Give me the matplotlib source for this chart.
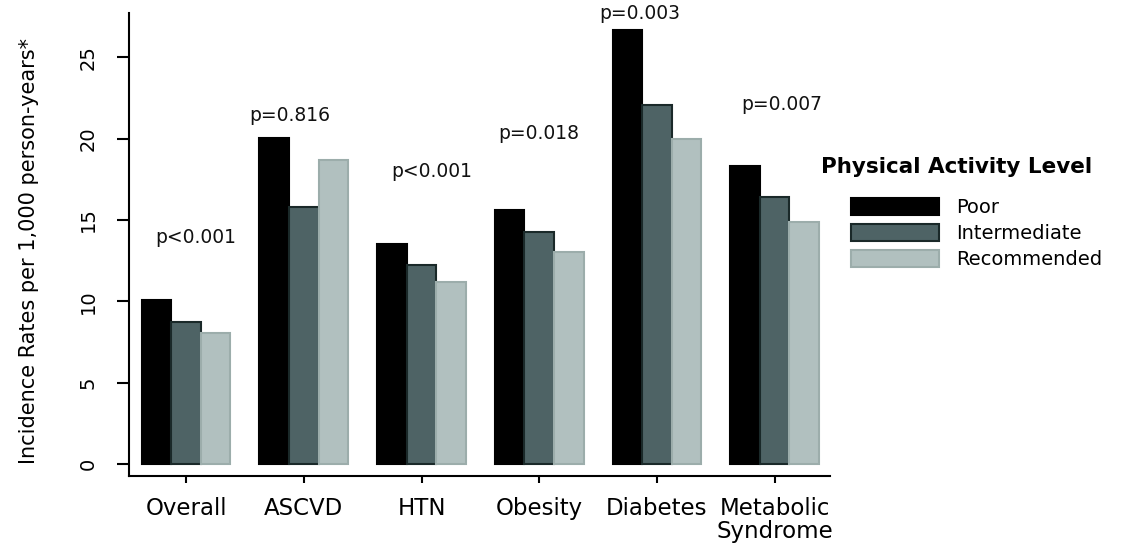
import matplotlib
matplotlib.use("Agg")
import matplotlib.pyplot as plt
from matplotlib.patches import Patch
import numpy as np

categories = ["Overall", "ASCVD", "HTN", "Obesity", "Diabetes", "Metabolic\nSyndrome"]
levels = ["Poor", "Intermediate", "Recommended"]
poor = [10.1, 20.05, 13.5, 15.6, 26.65, 18.3]
intermediate = [8.72, 15.8, 12.25, 14.26, 22.06, 16.38]
recommended = [8.03, 18.67, 11.2, 13.05, 20.0, 14.9]
p_labels = ["p<0.001", "p=0.816", "p<0.001", "p=0.018", "p=0.003", "p=0.007"]
p_label_y = [13.95, 21.4, 17.95, 20.3, 27.7, 22.1]
p_label_dx = [0.08, -0.12, 0.085, 0.0, -0.145, 0.06]
yticks = [0, 5, 10, 15, 20, 25]

face_colors = ["#000000", "#4e6365", "#b1c0bf"]
edge_colors = ["#000000", "#1a2929", "#9cadab"]

plt.rcParams['font.family'] = ['DejaVu Sans']

fig = plt.figure(figsize=(11.21, 5.43), dpi=100)
ax = fig.add_axes([129/1121, (543-476)/543, (830-129)/1121, (476-13)/543])

x = np.arange(len(categories))
w = 0.251
series = [poor, intermediate, recommended]
for i, vals in enumerate(series):
    ax.bar(x + (i - 1) * w, vals, width=w, color=face_colors[i],
           edgecolor=edge_colors[i], linewidth=1.5, label=levels[i])

for xi, lab, yy, dx in zip(x, p_labels, p_label_y, p_label_dx):
    ax.text(xi + dx, yy, lab, ha="center", va="center", fontsize=13.5, color="#111111")

ax.set_xlim(-0.485, len(categories) - 1 + 0.47)
ax.set_ylim(-0.74, 27.72)
ax.set_yticks(yticks)
ax.set_yticklabels([str(t) for t in yticks], rotation=90, va="center", fontsize=14)
ax.set_xticks(x)
ax.set_xticklabels(categories, fontsize=16.5, linespacing=1.0, va="top")

for s in ["top", "right"]:
    ax.spines[s].set_visible(False)
for s in ["left", "bottom"]:
    ax.spines[s].set_linewidth(1.5)
ax.tick_params(axis="y", direction="out", length=8.6, width=1.5, pad=14)
ax.tick_params(axis="x", direction="out", length=5, width=1.5, pad=10)

ax.set_ylabel("Incidence Rates per 1,000 person-years*", fontsize=15)
ax.yaxis.set_label_coords(-0.128, 0.485)

fig.text(821/1121, 1 - 167/543, "Physical Activity Level", fontsize=15.5,
         fontweight="bold", ha="left", va="center")
handles = [Patch(facecolor=face_colors[i], edgecolor=edge_colors[i], linewidth=1.5)
           for i in range(3)]
leg = fig.legend(handles, levels, loc="upper left",
                 bbox_to_anchor=(851/1121, 1 - 198/543),
                 frameon=False, fontsize=14, handlelength=4.5, handleheight=0.95,
                 labelspacing=0.36, handletextpad=0.9, borderpad=0,
                 borderaxespad=0)

fig.savefig("out.png", dpi=100)
